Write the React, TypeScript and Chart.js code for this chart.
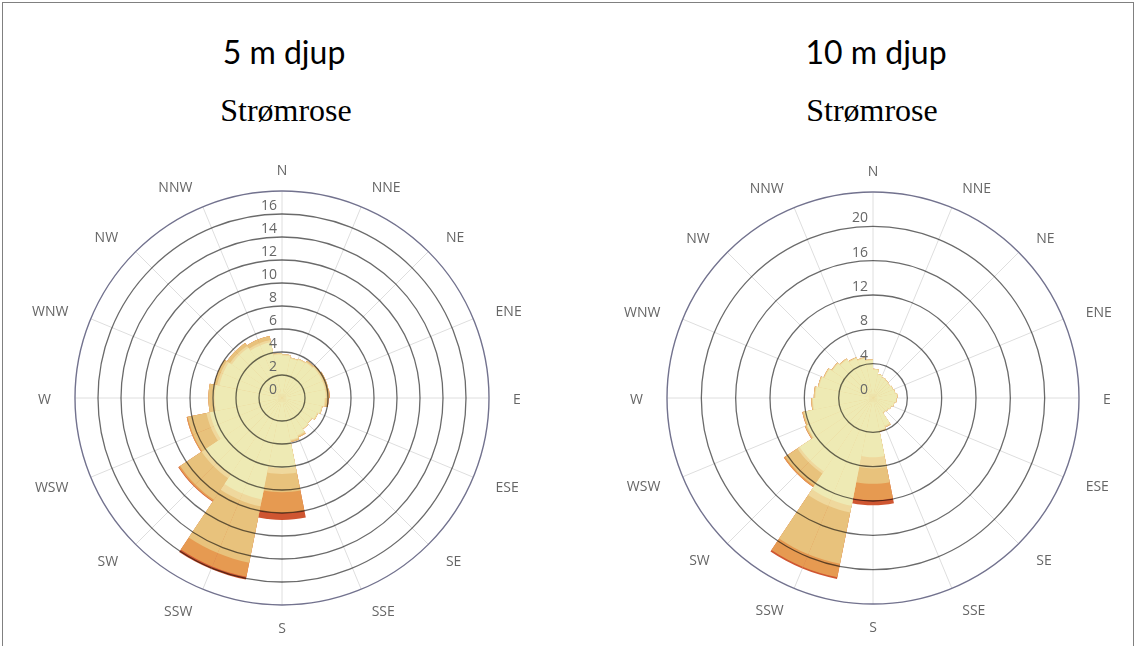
import React, { useEffect, useRef } from "react";
import { Chart, registerables } from "chart.js";

Chart.register(...registerables);

// Compass directions (16 sectors, 22.5° each)
const directions = ["N", "NNE", "NE", "ENE", "E", "ESE", "SE", "SSE", "S", "SSW", "SW", "WSW", "W", "WNW", "NW", "NNW"];

// Class colours (lowest speed class first)
const classColors = ["#EEEAB4", "#EFD89D", "#E8C27C", "#E69A51", "#CF5631"];

// ---- 5 m depth ----
// Lowest speed class, given per half-sector: [left half, right half] of each direction, N..NNW
const lowest5m = [
  3.8, 3.7, 3.5, 3.6, 3.7, 3.8, 3.8, 3.8, 3.8, 3.7, 3.5, 3.3, 3.1, 3.2, 3.5, 3.7,
  6.1, 6.1, 9.0, 9.0, 8.0, 8.0, 6.4, 6.4, 5.85, 5.85, 5.55, 5.55, 5.25, 5.25, 4.95, 4.95,
];
// Higher speed classes (increments, %), N..NNW
const class2_5m = [0.1, 0.1, 0.1, 0.1, 0.1, 0.1, 0.05, 0.1, 0.5, 0.6, 0.4, 0.3, 0.2, 0.2, 0.2, 0.2];
const class3_5m = [0, 0, 0.1, 0.2, 0.2, 0, 0, 0.1, 1.6, 5.0, 2.25, 1.65, 0.35, 0.25, 0.3, 0.35];
const class4_5m = [0, 0, 0, 0, 0.05, 0, 0, 0, 1.8, 1.25, 0.15, 0.1, 0, 0, 0, 0];
const class5_5m = [0, 0, 0, 0, 0, 0, 0, 0, 0.6, 0.25, 0.05, 0, 0, 0, 0, 0];

// ---- 10 m depth ----
const lowest10m = [
  4.4, 3.3, 2.8, 2.6, 2.5, 2.4, 2.5, 2.6, 2.8, 2.7, 2.5, 2.3, 2.1, 2.0, 3.5, 3.8,
  6.9, 6.9, 12.8, 12.8, 10.3, 10.3, 8.3, 8.1, 7.0, 6.7, 6.4, 6.1, 5.7, 5.4, 5.0, 4.7,
];
const class2_10m = [0.1, 0.05, 0.05, 0.05, 0.05, 0.05, 0.1, 0.15, 1.3, 0.8, 0.3, 0.1, 0.1, 0.1, 0.1, 0.1];
const class3_10m = [0, 0, 0, 0, 0, 0, 0, 0.05, 1.8, 6.1, 1.7, 0.15, 0.1, 0.05, 0.05, 0.05];
const class4_10m = [0, 0, 0, 0, 0, 0, 0, 0, 1.9, 1.6, 0.2, 0.05, 0, 0, 0, 0];
const class5_10m = [0, 0, 0, 0, 0, 0, 0, 0, 0.6, 0.2, 0, 0, 0, 0, 0, 0];

// Radial axis settings
const axis5m = { max: 18, step: 2 };
const axis10m = { max: 24, step: 4 };

// 32 half-sector labels for the library (compass names on sector centres)
const halfLabels: string[] = Array.from({ length: 32 }, (_, i) => (i % 2 === 0 ? directions[i / 2] : ""));

function buildDatasets(lowest: number[], classes: number[][]) {
  // chart index i spans [11.25*i, 11.25*(i+1)] degrees; direction d = ceil(i/2) mod 16
  const cumulative: number[][] = [];
  for (let c = 0; c <= classes.length; c++) cumulative.push([]);
  for (let i = 0; i < 32; i++) {
    const d = Math.ceil(i / 2) % 16;
    const k = (i + 1) % 32; // half index in lowest array ([left,right] per direction)
    let v = lowest[k];
    cumulative[0].push(v);
    classes.forEach((arr, c) => {
      v += arr[d];
      cumulative[c + 1].push(+v.toFixed(3));
    });
  }
  return cumulative.map((data, c) => ({
    data,
    backgroundColor: classColors[c],
    borderColor: classColors[c],
    borderWidth: 0,
  }));
}

const overlayPlugin = {
  id: "roseOverlay",
  afterDatasetsDraw(chart: any) {
    const s = chart.scales.r;
    const ctx = chart.ctx;
    ctx.save();
    s.ticks.forEach((t: any) => {
      if (t.value <= 0) return;
      const r = s.getDistanceFromCenterForValue(t.value);
      const outer = t.value >= s.max;
      ctx.save();
      ctx.globalCompositeOperation = outer ? "source-over" : "multiply";
      ctx.beginPath();
      ctx.arc(s.xCenter, s.yCenter, r, 0, Math.PI * 2);
      ctx.strokeStyle = outer ? "#72728e" : "#6a6a6a";
      ctx.lineWidth = outer ? 1.4 : 1.3;
      ctx.stroke();
      ctx.restore();
    });
    ctx.font = "14px 'Open Sans', sans-serif";
    ctx.fillStyle = "#666666";
    ctx.textAlign = "right";
    ctx.textBaseline = "middle";
    s.ticks.forEach((t: any) => {
      if (t.value >= s.max) return;
      const r = s.getDistanceFromCenterForValue(t.value);
      ctx.fillText(String(t.value), s.xCenter - 5, s.yCenter - r - 8);
    });
    ctx.textAlign = "center";
    (chart.data.labels as string[]).forEach((lab, i) => {
      if (!lab) return;
      const p = s.getPointPosition(i, s.drawingArea + 22);
      const sn = Math.sin(s.getIndexAngle(i));
      const w = ctx.measureText(lab).width;
      const push = Math.abs(sn) > 0.1 ? Math.sign(sn) * (w / 2 + 2) : 0;
      ctx.fillText(lab, p.x + push, p.y + 2);
    });
    ctx.restore();
  },
};

function Rose(props: { lowest: number[]; classes: number[][]; max: number; step: number; left: number; top: number; radius: number }) {
  const ref = useRef<HTMLCanvasElement | null>(null);
  const size = 500;
  useEffect(() => {
    if (!ref.current) return;
    const pad = size / 2 - props.radius;
    const chart = new Chart(ref.current, {
      type: "polarArea",
      data: { labels: halfLabels, datasets: buildDatasets(props.lowest, props.classes) as any },
      options: {
        animation: false,
        responsive: true,
        maintainAspectRatio: false,
        layout: { padding: pad },
        plugins: { legend: { display: false }, tooltip: { enabled: false } },
        scales: {
          r: {
            min: 0,
            max: props.max,
            startAngle: 0,
            ticks: { display: false, stepSize: props.step },
            grid: { display: false },
            angleLines: {
              display: true,
              lineWidth: 1,
              color: (c: any) => (c.index % 2 === 0 ? "#dedede" : "rgba(0,0,0,0)"),
            },
            pointLabels: { display: false },
          },
        },
      } as any,
      plugins: [overlayPlugin],
    });
    return () => chart.destroy();
  }, []);
  return (
    <div style={{ position: "absolute", left: props.left, top: props.top, width: size, height: size }}>
      <canvas ref={ref} />
    </div>
  );
}

const headStyle = (cx: number, top: number): React.CSSProperties => ({
  position: "absolute",
  left: cx - 200,
  width: 400,
  top,
  textAlign: "center",
  lineHeight: 1,
  whiteSpace: "nowrap",
  color: "#000",
});

export default function App() {
  return (
    <div style={{ position: "absolute", left: 0, top: 0, width: 1136, height: 646, background: "#fff", overflow: "hidden" }}>
      <div style={{ position: "absolute", left: 2, top: 2, width: 1130, height: 700, border: "1px solid #808080" }} />
      <div style={{ ...headStyle(284, 36), fontFamily: "Lato, sans-serif", fontWeight: 400, fontSize: 32 }}>5 m djup</div>
      <div style={{ ...headStyle(876, 36), fontFamily: "Lato, sans-serif", fontWeight: 400, fontSize: 32 }}>10 m djup</div>
      <div style={{ ...headStyle(286, 94), fontFamily: "'Liberation Serif', serif", fontSize: 32 }}>Strømrose</div>
      <div style={{ ...headStyle(872, 94), fontFamily: "'Liberation Serif', serif", fontSize: 32 }}>Strømrose</div>
      <Rose
        lowest={lowest5m}
        classes={[class2_5m, class3_5m, class4_5m, class5_5m]}
        max={axis5m.max}
        step={axis5m.step}
        left={32}
        top={148}
        radius={207}
      />
      <Rose
        lowest={lowest10m}
        classes={[class2_10m, class3_10m, class4_10m, class5_10m]}
        max={axis10m.max}
        step={axis10m.step}
        left={623}
        top={148}
        radius={206}
      />
    </div>
  );
}
